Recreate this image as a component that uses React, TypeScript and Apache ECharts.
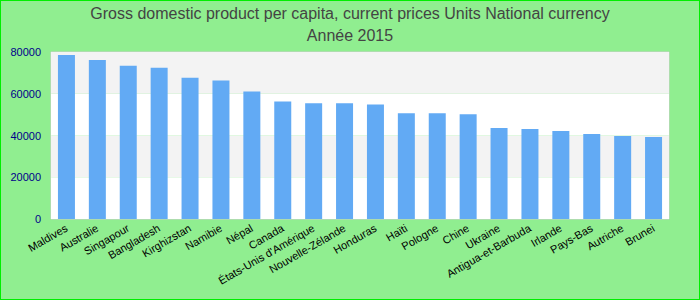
import React, { useEffect, useRef } from "react";
import * as echarts from "echarts";

const categories = [
  "Maldives", "Australie", "Singapour", "Bangladesh", "Kirghizstan", "Namibie", "Népal", "Canada",
  "États-Unis d'Amérique", "Nouvelle-Zélande", "Honduras", "Haïti", "Pologne", "Chine", "Ukraine",
  "Antigua-et-Barbuda", "Irlande", "Pays-Bas", "Autriche", "Brunei",
];
const values = [
  78600, 76200, 73400, 72400, 67700, 66300, 61100, 56300,
  55400, 55400, 54900, 50700, 50700, 50200, 43600,
  43100, 42100, 40700, 39800, 39300,
];
const titleLines = ["Gross domestic product per capita, current prices Units National currency", "Année 2015"];

export default function App() {
  const ref = useRef<HTMLDivElement>(null);
  useEffect(() => {
    if (!ref.current) return;
    const chart = echarts.init(ref.current, undefined, { renderer: "svg" });
    chart.setOption({
      animation: false,
      backgroundColor: "#90ee90",
      title: {
        text: titleLines.join("\n"),
        left: "center",
        top: -4,
        textStyle: {
          fontFamily: "Liberation Sans, Arial, sans-serif",
          fontWeight: "normal",
          fontSize: 16,
          color: "#444",
          lineHeight: 22,
        },
      },
      grid: {
        left: 50,
        right: 30,
        top: 51,
        bottom: 80,
        show: true,
        borderColor: "#ccc",
        borderWidth: 1,
        backgroundColor: "transparent",
      },
      xAxis: {
        type: "category",
        data: categories,
        axisLine: { show: false },
        axisTick: { show: false },
        axisLabel: {
          interval: 0,
          rotate: 30,
          color: "#000",
          fontSize: 11,
          fontFamily: "Liberation Sans, Arial, sans-serif",
          margin: 8,
        },
      },
      yAxis: {
        type: "value",
        min: 0,
        max: 80000,
        interval: 20000,
        axisLine: { show: false },
        axisTick: { show: false },
        splitLine: { show: false },
        splitArea: { show: true, areaStyle: { color: ["#ffffff", "#f3f3f3"] } },
        axisLabel: {
          color: "#00008b",
          fontSize: 11,
          fontFamily: "Liberation Sans, Arial, sans-serif",
          margin: 10,
          formatter: (v: number) => String(v),
        },
      },
      series: [
        {
          type: "bar",
          data: values,
          barWidth: 17,
          itemStyle: { color: "#62aaf4" },
        },
      ],
    });
    return () => chart.dispose();
  }, []);
  return (
    <div
      style={{
        position: "fixed",
        left: 0,
        top: 0,
        width: 700,
        height: 300,
        boxSizing: "border-box",
        border: "1px solid #00ee00",
        background: "#90ee90",
      }}
    >
      <div ref={ref} style={{ width: 698, height: 298 }} />
    </div>
  );
}
